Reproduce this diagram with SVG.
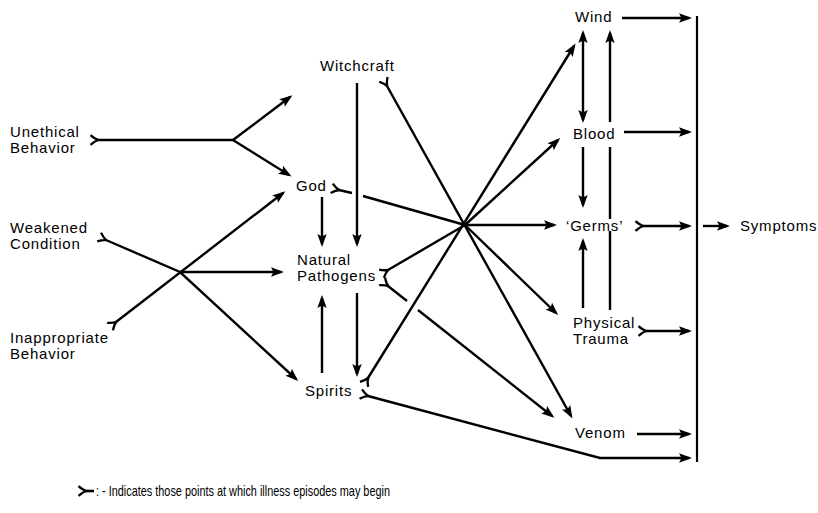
<svg xmlns="http://www.w3.org/2000/svg" width="818" height="513" viewBox="0 0 818 513">
  <style>
    .lbl { font-family: "Liberation Sans", Arial, sans-serif; font-size: 15px; letter-spacing: 0.8px; fill: #000; }
    .note { font-family: "Liberation Sans", Arial, sans-serif; font-size: 14.5px; fill: #000; }
    .ln { fill: none; stroke: #000; stroke-width: 2.4; stroke-linecap: butt; stroke-linejoin: miter; }
    .arr { marker-end: url(#head); }
    .tail { marker-start: url(#fork); }
    .both { marker-start: url(#headStart); marker-end: url(#head); }
  </style>
  <defs>
    <!-- solid arrowhead; tip sits slightly past the line end -->
    <marker id="head" markerUnits="userSpaceOnUse" viewBox="-11 -6 15 12" refX="0" refY="0" markerWidth="15" markerHeight="12" orient="auto" overflow="visible">
      <path d="M3,0 L-10,-4.7 L-7.5,0 L-10,4.7 Z" fill="#000"/>
    </marker>
    <marker id="headStart" markerUnits="userSpaceOnUse" viewBox="-11 -6 15 12" refX="0" refY="0" markerWidth="15" markerHeight="12" orient="auto-start-reverse" overflow="visible">
      <path d="M3,0 L-10,-4.7 L-7.5,0 L-10,4.7 Z" fill="#000"/>
    </marker>
    <!-- forked tail: marks a point where an episode may begin -->
    <marker id="fork" markerUnits="userSpaceOnUse" viewBox="-9 -6 10 12" refX="0" refY="0" markerWidth="10" markerHeight="12" orient="auto" overflow="visible">
      <path d="M-7.5,-4.8 Q-3,-0.8 0.5,0 Q-3,0.8 -7.5,4.8" fill="none" stroke="#000" stroke-width="2.3"/>
    </marker>
  </defs>

  <rect width="818" height="513" fill="#fff"/>

  <g id="connectors">
    <!-- Unethical Behavior branch -->
    <path class="ln tail" d="M98,140 L233,140"/>
    <path class="ln arr" d="M233,140 L290,97"/>
    <path class="ln arr" d="M233,140 L289,175"/>
    <!-- Weakened Condition / Inappropriate Behavior crossing -->
    <path class="ln tail arr" d="M106,240 L180,272 L296,379"/>
    <path class="ln tail arr" d="M116,322 L283,193"/>
    <path class="ln arr" d="M180,272 L281,272"/>

    <!-- middle column verticals -->
    <path class="ln arr" d="M357,83 L357,244"/>
    <path class="ln arr" d="M322,197 L322,244"/>
    <path class="ln arr" d="M357,293 L357,374"/>
    <path class="ln arr" d="M322,373 L322,298"/>

    <!-- lines through the hub -->
    <path class="ln tail arr" d="M387,86 L571,416"/>
    <path class="ln tail" d="M339,190 L352,193"/>
    <path class="ln" d="M363,196 L465,225"/>
    <path class="ln tail" d="M388,270 L465,225"/>
    <path class="ln tail" d="M388,286 L407,301"/>
    <path class="ln arr" d="M418,310 L552,416"/>
    <path class="ln tail arr" d="M368,378 L574,46"/>
    <path class="ln tail arr" d="M368,396 L600,458 L689,458"/>
    <path class="ln arr" d="M465,225 L558,140"/>
    <path class="ln arr" d="M465,225 L554,225"/>
    <path class="ln arr" d="M465,225 L556,313"/>

    <!-- right column verticals -->
    <path class="ln both" d="M583,33 L583,120"/>
    <path class="ln arr" d="M583,147 L583,205"/>
    <path class="ln arr" d="M583,308 L583,241"/>
    <path class="ln" d="M610,310 L610,231"/>
    <path class="ln" d="M610,219 L610,147"/>
    <path class="ln arr" d="M610,122 L610,33"/>

    <!-- into the symptom bar -->
    <path class="ln arr" d="M622,18 L689,18"/>
    <path class="ln arr" d="M624,132 L689,132"/>
    <path class="ln tail arr" d="M643,226 L689,226"/>
    <path class="ln tail arr" d="M646,331 L689,331"/>
    <path class="ln arr" d="M637,434 L689,434"/>
    <path class="ln" d="M697,16 L697,462" style="stroke-width:2.2"/>
    <path class="ln arr" d="M703,226 L727,226"/>
  </g>

  <g id="unethical-behavior"><text class="lbl" x="10" y="137">Unethical</text><text class="lbl" x="10" y="153">Behavior</text></g>
  <g id="weakened-condition"><text class="lbl" x="10" y="233">Weakened</text><text class="lbl" x="10" y="249">Condition</text></g>
  <g id="inappropriate-behavior"><text class="lbl" x="10" y="343">Inappropriate</text><text class="lbl" x="10" y="359">Behavior</text></g>

  <g id="witchcraft"><text class="lbl" x="320" y="71">Witchcraft</text></g>
  <g id="god"><text class="lbl" x="296" y="191">God</text></g>
  <g id="natural-pathogens"><text class="lbl" x="297" y="265">Natural</text><text class="lbl" x="297" y="281">Pathogens</text></g>
  <g id="spirits"><text class="lbl" x="305" y="396">Spirits</text></g>

  <g id="wind"><text class="lbl" x="575" y="22">Wind</text></g>
  <g id="blood"><text class="lbl" x="573" y="139">Blood</text></g>
  <g id="germs"><text class="lbl" x="566" y="231">‘Germs’</text></g>
  <g id="physical-trauma"><text class="lbl" x="573" y="328">Physical</text><text class="lbl" x="573" y="344">Trauma</text></g>
  <g id="venom"><text class="lbl" x="575" y="438">Venom</text></g>
  <g id="symptoms"><text class="lbl" x="740" y="231">Symptoms</text></g>

  <g id="legend">
    <path class="ln tail" d="M86,491 L94,491" style="stroke-width:2.6"/>
    <text class="note" x="96" y="496" textLength="294" lengthAdjust="spacingAndGlyphs">: - Indicates those points at which illness episodes may begin</text>
  </g>
</svg>
